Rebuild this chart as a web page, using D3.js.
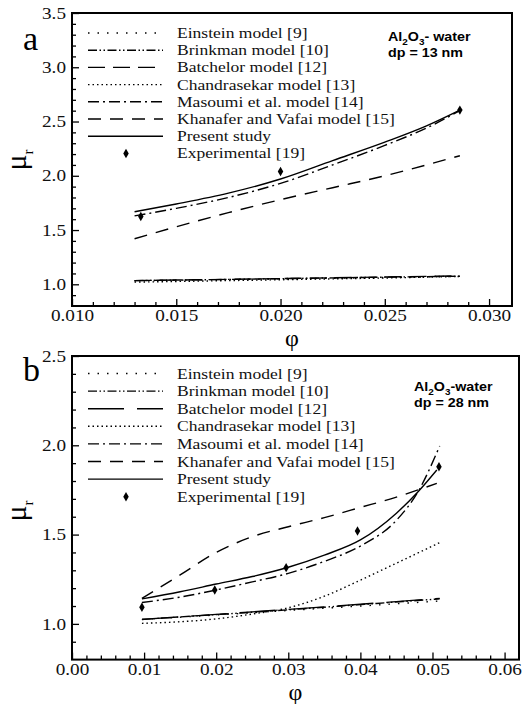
<!DOCTYPE html>
<html>
<head>
<meta charset="utf-8">
<script src="https://cdnjs.cloudflare.com/ajax/libs/d3/7.8.5/d3.min.js"></script>
<style>
  body { margin: 0; background: #fff; }
  svg { display: block; }
</style>
</head>
<body>
<div id="chart"></div>
<script>
var svgWidth = 523;
var svgHeight = 704;

// legend entries (same in both panels)
var legendNames = ["Einstein model [9]", "Brinkman model [10]", "Batchelor model [12]",
  "Chandrasekar model [13]", "Masoumi et al. model [14]", "Khanafer and Vafai model [15]",
  "Present study", "Experimental [19]"];

// ---- panel a : dp = 13 nm ----
var phiA = [0.013, 0.015, 0.0175, 0.020, 0.0225, 0.025, 0.027, 0.0286];
var einsteinA = [1.033, 1.038, 1.044, 1.050, 1.056, 1.063, 1.068, 1.072];
var brinkmanA = [1.034, 1.039, 1.045, 1.052, 1.059, 1.066, 1.071, 1.075];
var batchelorA = [1.034, 1.039, 1.046, 1.053, 1.060, 1.067, 1.073, 1.077];
var chandraA = [1.020, 1.026, 1.034, 1.042, 1.050, 1.058, 1.066, 1.073];
var masoumiA = [1.63, 1.70, 1.80, 1.93, 2.10, 2.28, 2.44, 2.60];
var khanaferA = [1.42, 1.53, 1.66, 1.78, 1.89, 2.00, 2.10, 2.185];
var presentA = [1.668, 1.74, 1.84, 1.97, 2.14, 2.31, 2.46, 2.605];
var expPhiA = [0.0133, 0.020, 0.0286];
var expMuA = [1.625, 2.04, 2.605];
var xTicksA = [0.010, 0.015, 0.020, 0.025, 0.030];
var yTicksA = [1.0, 1.5, 2.0, 2.5, 3.0, 3.5];

// ---- panel b : dp = 28 nm ----
var phiB = [0.0097, 0.015, 0.020, 0.025, 0.030, 0.035, 0.040, 0.045, 0.048, 0.0506];
var phiBlin = [0.0097, 0.020, 0.030, 0.040, 0.051];
var einsteinB = [1.024, 1.050, 1.075, 1.100, 1.128];
var brinkmanB = [1.025, 1.052, 1.079, 1.108, 1.140];
var batchelorB = [1.025, 1.053, 1.081, 1.110, 1.143];
var phiChandraB = [0.0097, 0.015, 0.020, 0.025, 0.030, 0.035, 0.040, 0.045, 0.051];
var chandraB = [1.003, 1.012, 1.028, 1.055, 1.090, 1.155, 1.245, 1.340, 1.455];
var phiMasoumiB = [0.0097, 0.015, 0.020, 0.025, 0.030, 0.035, 0.040, 0.045, 0.048, 0.051];
var masoumiB = [1.12, 1.15, 1.19, 1.235, 1.283, 1.35, 1.436, 1.58, 1.74, 1.996];
var phiKhanaferB = [0.0097, 0.015, 0.020, 0.025, 0.030, 0.035, 0.040, 0.045, 0.0506];
var khanaferB = [1.143, 1.274, 1.40, 1.488, 1.544, 1.595, 1.652, 1.71, 1.787];
var presentB = [1.14, 1.18, 1.223, 1.265, 1.317, 1.385, 1.47, 1.62, 1.74, 1.862];
var expPhiB = [0.0097, 0.0198, 0.0297, 0.0396, 0.0509];
var expMuB = [1.093, 1.19, 1.315, 1.52, 1.88];
var xTicksB = [0.00, 0.01, 0.02, 0.03, 0.04, 0.05, 0.06];
var yTicksB = [1.0, 1.5, 2.0, 2.5];

var serif = '"Liberation Serif"';
var sans = '"Liberation Sans"';

var svg = d3.select("#chart")
  .append("svg")
  .attr("width", svgWidth)
  .attr("height", svgHeight);

function pairs(xs, ys) {
  return xs.map(function(x, i) { return [x, ys[i]]; });
}

var dashA = ["1.5,8", "9,2.5,1.5,2.5,1.5,2.5", "17,8", "1.5,3", "11,4,2,4", "13,9", null];
var dashB = ["1.5,8", "9,2.5,1.5,2.5,1.5,2.5", "36,13", "1.5,3", "11,4,2,4", "13,9", null];

function drawPanel(p) {
  var x = d3.scaleLinear().domain(p.xDomain).range([p.left, p.right]);
  var y = d3.scaleLinear().domain(p.yDomain).range([p.bottom, p.top]);
  var g = svg.append("g");

  // minor ticks
  g.append("g")
    .attr("transform", `translate(0, ${p.bottom})`)
    .call(d3.axisBottom(x).tickValues(p.xMinor).tickSize(-4).tickFormat(""))
    .call(s => s.select(".domain").remove());
  g.append("g")
    .attr("transform", `translate(${p.left}, 0)`)
    .call(d3.axisLeft(y).tickValues(p.yMinor).tickSize(-4).tickFormat(""))
    .call(s => s.select(".domain").remove());

  // major ticks
  var xa = g.append("g")
    .attr("transform", `translate(0, ${p.bottom})`)
    .call(d3.axisBottom(x).tickValues(p.xTicks).tickSize(-7).tickPadding(4).tickFormat(d3.format(p.xFmt)));
  var ya = g.append("g")
    .attr("transform", `translate(${p.left}, 0)`)
    .call(d3.axisLeft(y).tickValues(p.yTicks).tickSize(-7).tickPadding(5).tickFormat(d3.format(".1f")));
  [xa, ya].forEach(function(a) {
    a.attr("font-family", null).attr("font-size", null);
    a.select(".domain").remove();
    a.selectAll("text")
      .style("font-family", serif)
      .style("font-size", "16px")
      .attr("fill", "#111")
      .attr("transform", "scale(1.2,1)");
  });
  g.selectAll(".tick line").attr("stroke", "#000").attr("stroke-width", 1.3);

  // frame
  g.append("rect")
    .attr("x", p.left).attr("y", p.top)
    .attr("width", p.right - p.left).attr("height", p.bottom - p.top)
    .attr("fill", "none").attr("stroke", "#000").attr("stroke-width", 2);

  var line = d3.line()
    .x(d => x(d[0]))
    .y(d => y(d[1]))
    .curve(d3.curveMonotoneX);

  p.series.forEach(function(s, i) {
    g.append("path")
      .datum(pairs(s.phi, s.mu))
      .attr("d", line)
      .attr("fill", "none")
      .attr("stroke", "#000")
      .attr("stroke-width", 1.4)
      .attr("stroke-dasharray", p.dash[i]);
  });

  g.selectAll(".exp")
    .data(pairs(p.expPhi, p.expMu))
    .enter()
    .append("path")
    .attr("class", "exp")
    .attr("transform", d => `translate(${x(d[0])}, ${y(d[1])})`)
    .attr("d", d3.symbol().type(d3.symbolDiamond).size(26))
    .attr("fill", "#000");

  // legend
  legendNames.forEach(function(name, i) {
    var ly = p.legY + p.legStep * i;
    if (i < 7) {
      g.append("line")
        .attr("x1", 88).attr("x2", 163)
        .attr("y1", ly).attr("y2", ly)
        .attr("stroke", "#000")
        .attr("stroke-width", 1.4)
        .attr("stroke-dasharray", p.dash[i]);
    } else {
      g.append("path")
        .attr("transform", `translate(126, ${ly})`)
        .attr("d", d3.symbol().type(d3.symbolDiamond).size(26))
        .attr("fill", "#000");
    }
    g.append("g")
      .attr("transform", `translate(177, ${ly + 5})`)
      .append("text")
      .attr("transform", "scale(1.17,1)")
      .style("font-family", serif)
      .style("font-size", "15px")
      .attr("fill", "#111")
      .text(name);
  });

  // material note
  var note = g.append("g")
    .attr("transform", `translate(${p.noteX}, ${p.noteY})`)
    .append("text")
    .attr("transform", "scale(1.1,1)")
    .style("font-family", sans)
    .style("font-weight", "bold")
    .style("font-size", "13px")
    .attr("fill", "#000");
  note.append("tspan").text("Al");
  note.append("tspan").style("font-size", "9px").attr("dy", 4).text("2");
  note.append("tspan").attr("dy", -4).text("O");
  note.append("tspan").style("font-size", "9px").attr("dy", 4).text("3");
  note.append("tspan").attr("dy", -4).text(p.noteTail);
  note.append("tspan").attr("x", 0).attr("dy", 16).text(p.noteLine2);

  // panel letter
  g.append("text")
    .attr("x", 23).attr("y", p.letterY)
    .style("font-family", serif)
    .style("font-size", "34px")
    .attr("fill", "#000")
    .text(p.letter);

  // y label
  var yl = g.append("text")
    .attr("transform", `translate(26, ${p.muY}) rotate(-90)`)
    .attr("text-anchor", "middle")
    .style("font-family", serif)
    .style("font-size", "30px")
    .attr("fill", "#000");
  yl.append("tspan").text("\u03bc");
  yl.append("tspan").style("font-size", "15px").attr("dy", 7).text("r");

  // x label
  g.append("text")
    .attr("x", (p.left + p.right) / 2)
    .attr("y", p.phiY)
    .attr("text-anchor", "middle")
    .style("font-family", serif)
    .style("font-size", "24px")
    .attr("fill", "#000")
    .text("\u03c6");
}

drawPanel({
  left: 72, right: 512, top: 13, bottom: 306,
  xDomain: [0.010, 0.0311], yDomain: [0.8, 3.5],
  xTicks: xTicksA, yTicks: yTicksA, xFmt: ".3f",
  xMinor: d3.range(11, 31).map(d => d / 1000).filter(d => Math.round(d * 1000) % 5 !== 0),
  yMinor: d3.range(9, 35).map(d => d / 10).filter(d => d % 0.5 > 0.01),
  series: [
    { phi: phiA, mu: einsteinA }, { phi: phiA, mu: brinkmanA }, { phi: phiA, mu: batchelorA },
    { phi: phiA, mu: chandraA }, { phi: phiA, mu: masoumiA }, { phi: phiA, mu: khanaferA },
    { phi: phiA, mu: presentA }
  ],
  dash: dashA,
  expPhi: expPhiA, expMu: expMuA,
  legY: 33, legStep: 17.2,
  noteX: 388, noteY: 41, noteTail: "- water", noteLine2: "dp = 13 nm",
  letter: "a", letterY: 50, muY: 160, phiY: 346
});

drawPanel({
  left: 72, right: 519, top: 356, bottom: 659.6,
  xDomain: [0, 0.062], yDomain: [0.8, 2.5],
  xTicks: xTicksB, yTicks: yTicksB, xFmt: ".2f",
  xMinor: d3.range(1, 31).map(d => d * 0.002).filter(d => Math.round(d * 1000) % 10 !== 0),
  yMinor: d3.range(9, 25).map(d => d / 10).filter(d => d % 0.5 > 0.01),
  series: [
    { phi: phiBlin, mu: einsteinB }, { phi: phiBlin, mu: brinkmanB }, { phi: phiBlin, mu: batchelorB },
    { phi: phiChandraB, mu: chandraB }, { phi: phiMasoumiB, mu: masoumiB },
    { phi: phiKhanaferB, mu: khanaferB }, { phi: phiB, mu: presentB }
  ],
  dash: dashB,
  expPhi: expPhiB, expMu: expMuB,
  legY: 373.5, legStep: 17.6,
  noteX: 414, noteY: 391, noteTail: "-water", noteLine2: "dp = 28 nm",
  letter: "b", letterY: 381, muY: 511, phiY: 700
});
</script>
</body>
</html>
